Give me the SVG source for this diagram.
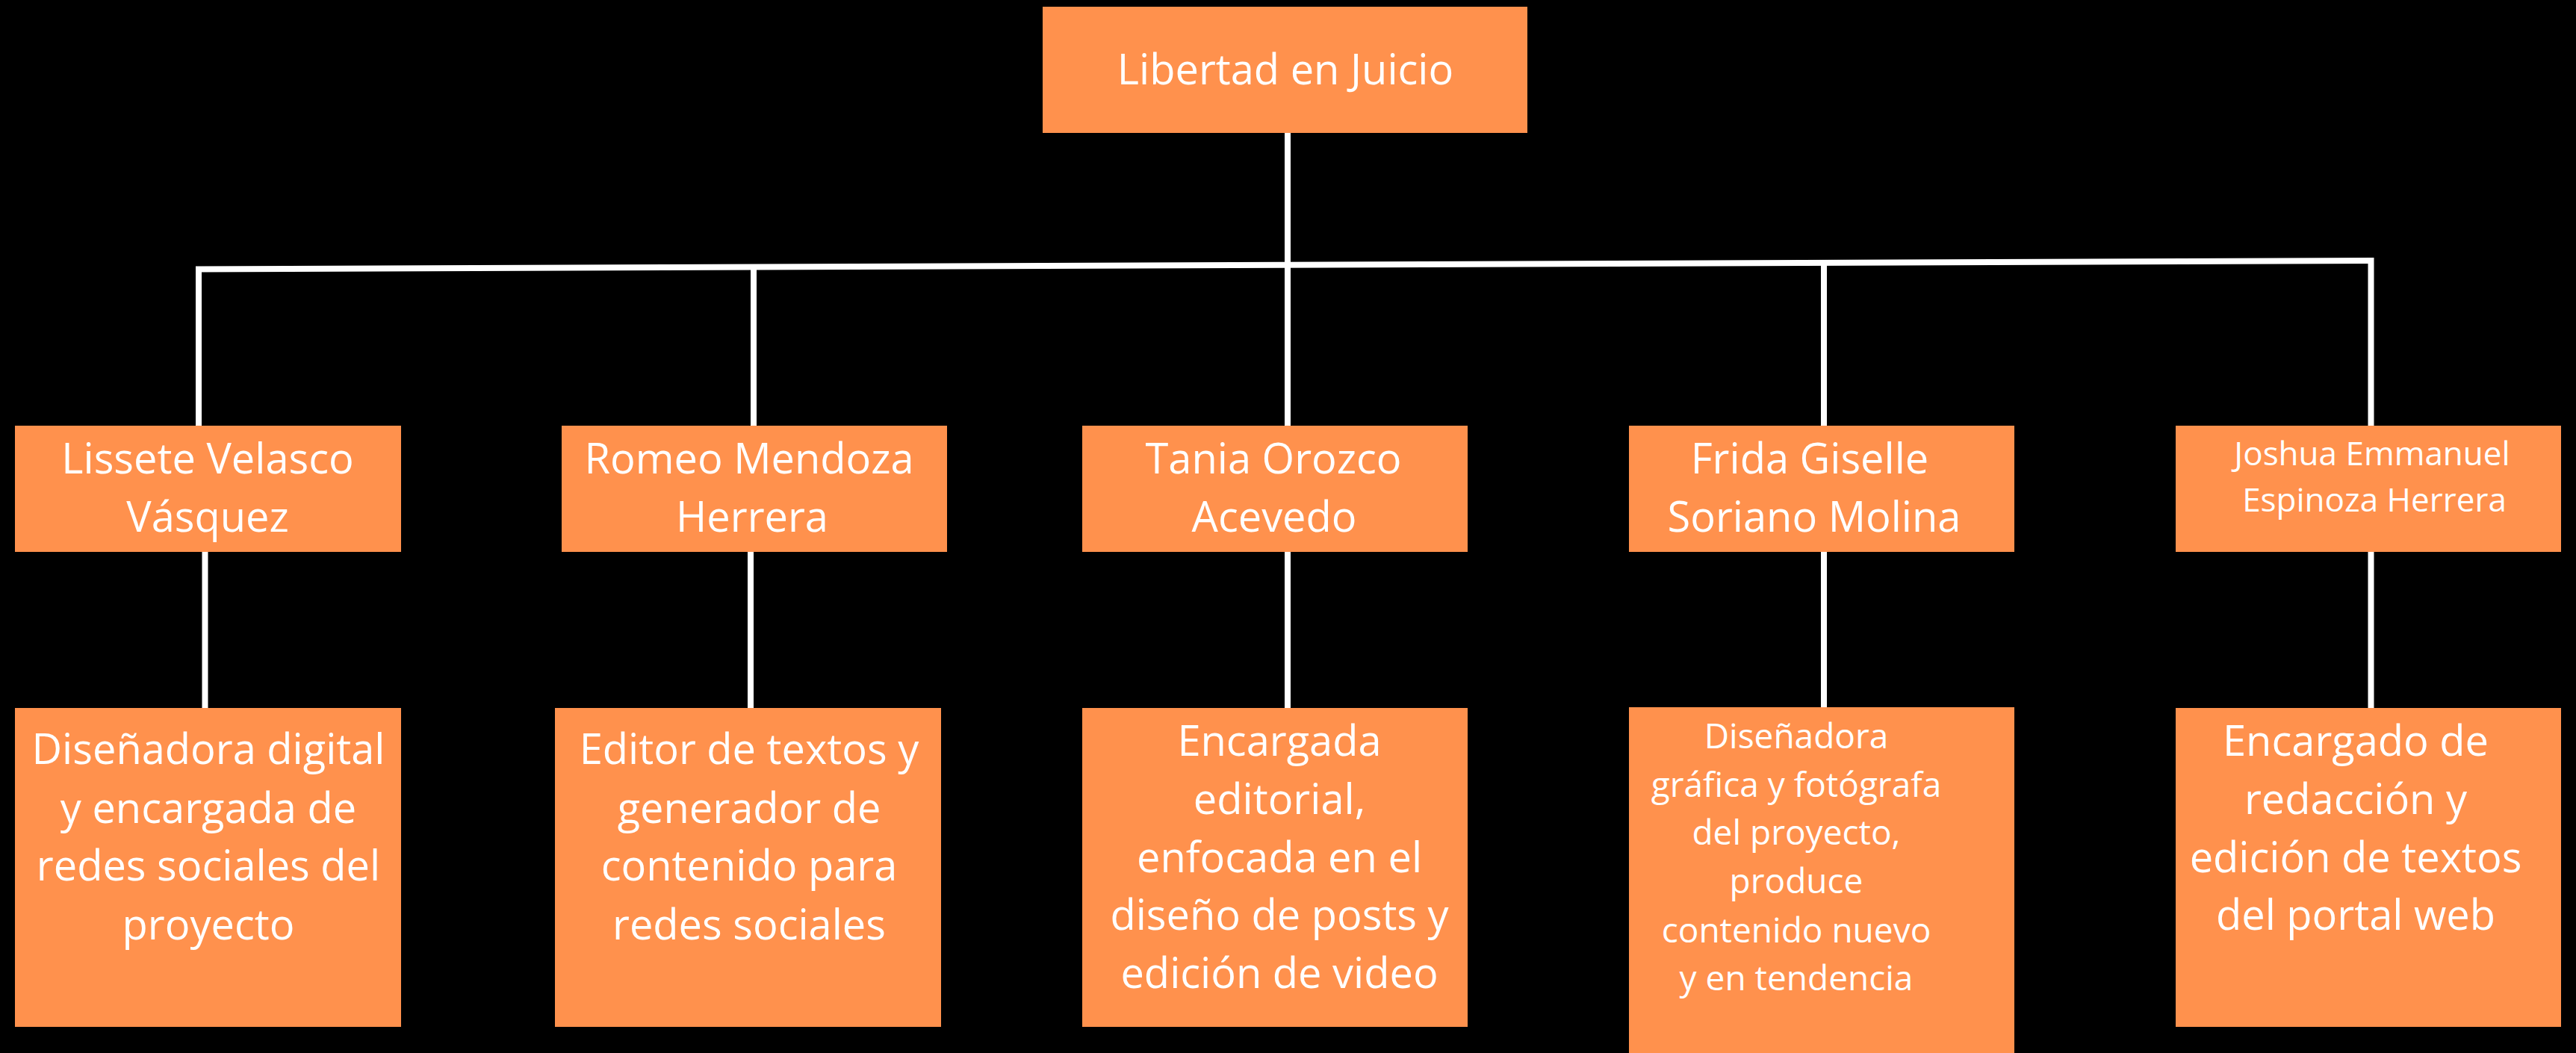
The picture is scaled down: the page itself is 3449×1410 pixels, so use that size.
<svg xmlns="http://www.w3.org/2000/svg" width="3449" height="1410" viewBox="0 0 3449 1410">
<style>
.box{fill:#FF914D}
.t{font-family:"Open Sans","Liberation Sans",sans-serif;fill:#FFFFFF;text-anchor:middle;font-size:56px}
.s{font-size:44px}
.m{font-size:46px}
.ln{stroke:#FFFFFF;stroke-width:8;fill:none;stroke-linecap:butt}
</style>
<rect width="3449" height="1410" fill="#000000"/>
<g id="connectors">
<line class="ln" x1="1724" y1="178" x2="1724" y2="355"/>
<line class="ln" x1="262" y1="360.5" x2="3178" y2="349"/>
<line class="ln" x1="266" y1="357" x2="266" y2="570"/>
<line class="ln" x1="1009" y1="357" x2="1009" y2="570"/>
<line class="ln" x1="1724" y1="355" x2="1724" y2="570"/>
<line class="ln" x1="2442" y1="352" x2="2442" y2="570"/>
<line class="ln" x1="3174.5" y1="345" x2="3174.5" y2="570"/>
<line class="ln" x1="274.5" y1="738" x2="274.5" y2="948"/>
<line class="ln" x1="1005" y1="738" x2="1005" y2="948"/>
<line class="ln" x1="1724" y1="738" x2="1724" y2="948"/>
<line class="ln" x1="2442" y1="738" x2="2442" y2="947"/>
<line class="ln" x1="3174.5" y1="738" x2="3174.5" y2="948"/>
</g>
<g id="root">
<rect class="box" x="1396" y="9" width="649" height="169"/>
<text class="t" x="1721" y="113">Libertad en Juicio</text>
</g>
<g id="lissete">
<rect class="box" x="20" y="570" width="517" height="169"/>
<text class="t" x="278" y="634">Lissete Velasco</text>
<text class="t" x="278" y="712">Vásquez</text>
</g>
<g id="romeo">
<rect class="box" x="752" y="570" width="516" height="169"/>
<text class="t" x="1003" y="634">Romeo Mendoza</text>
<text class="t" x="1007" y="712">Herrera</text>
</g>
<g id="tania">
<rect class="box" x="1449" y="570" width="516" height="169"/>
<text class="t" x="1705" y="634">Tania Orozco</text>
<text class="t" x="1706" y="712">Acevedo</text>
</g>
<g id="frida">
<rect class="box" x="2181" y="570" width="516" height="169"/>
<text class="t" x="2423" y="634">Frida Giselle</text>
<text class="t" x="2429" y="712">Soriano Molina</text>
</g>
<g id="joshua">
<rect class="box" x="2913" y="570" width="516" height="169"/>
<text class="t s" x="3176" y="623">Joshua Emmanuel</text>
<text class="t s" x="3179" y="685">Espinoza Herrera</text>
</g>
<g id="lissete-role">
<rect class="box" x="20" y="948" width="517" height="427"/>
<text class="t" x="279" y="1023">Diseñadora digital</text>
<text class="t" x="279" y="1102">y encargada de</text>
<text class="t" x="279" y="1179">redes sociales del</text>
<text class="t" x="279" y="1258">proyecto</text>
</g>
<g id="romeo-role">
<rect class="box" x="743" y="948" width="517" height="427"/>
<text class="t" x="1003" y="1023">Editor de textos y</text>
<text class="t" x="1003" y="1102">generador de</text>
<text class="t" x="1003" y="1179">contenido para</text>
<text class="t" x="1003" y="1258">redes sociales</text>
</g>
<g id="tania-role">
<rect class="box" x="1449" y="948" width="516" height="427"/>
<text class="t" x="1713" y="1012">Encargada</text>
<text class="t" x="1713" y="1090">editorial,</text>
<text class="t" x="1713" y="1168">enfocada en el</text>
<text class="t" x="1713" y="1245">diseño de posts y</text>
<text class="t" x="1713" y="1323">edición de video</text>
</g>
<g id="frida-role">
<rect class="box" x="2181" y="947" width="516" height="463"/>
<text class="t m" x="2405" y="1002">Diseñadora</text>
<text class="t m" x="2405" y="1067">gráfica y fotógrafa</text>
<text class="t m" x="2405" y="1131">del proyecto,</text>
<text class="t m" x="2405" y="1196">produce</text>
<text class="t m" x="2405" y="1262">contenido nuevo</text>
<text class="t m" x="2405" y="1326">y en tendencia</text>
</g>
<g id="joshua-role">
<rect class="box" x="2913" y="948" width="516" height="427"/>
<text class="t" x="3154" y="1012">Encargado de</text>
<text class="t" x="3154" y="1090">redacción y</text>
<text class="t" x="3154" y="1168">edición de textos</text>
<text class="t" x="3154" y="1245">del portal web</text>
</g>
</svg>
